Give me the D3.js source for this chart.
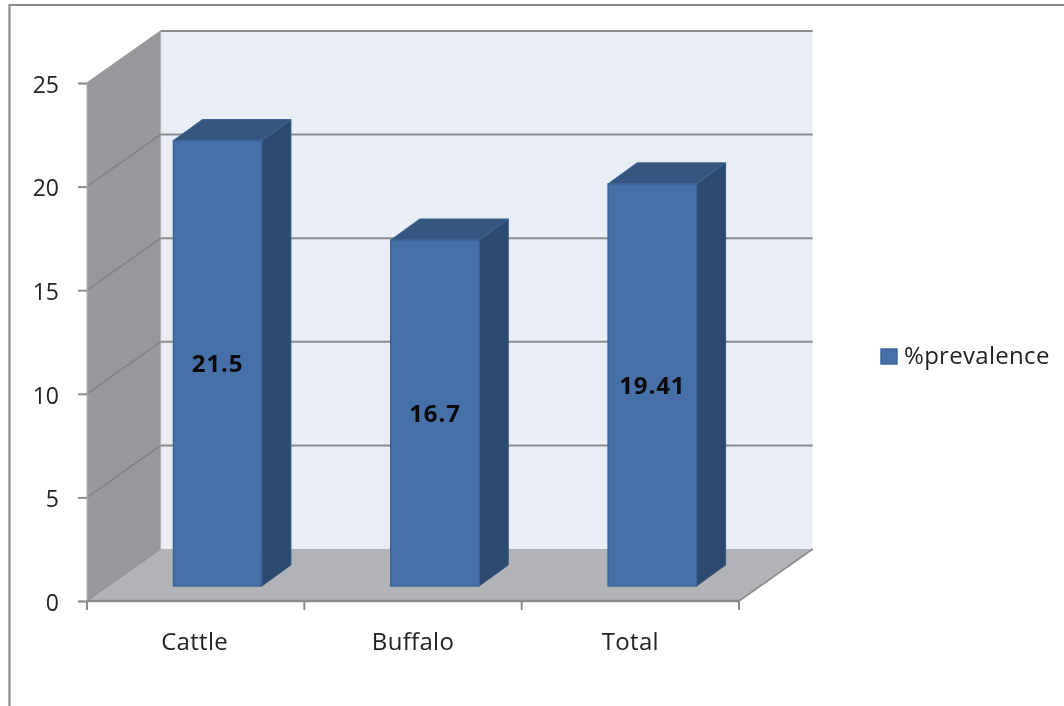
<!DOCTYPE html>
<html><head><meta charset="utf-8">
<script src="https://cdn.jsdelivr.net/npm/d3@7"></script>
<style>html,body{margin:0;padding:0;background:#fff}svg{display:block;filter:blur(0.4px)}text{font-family:"Open Sans",sans-serif}</style>
</head><body><div id="c"></div>
<script>
const categories = ["Cattle","Buffalo","Total"];
const prevalence = [21.5,16.7,19.41];
const seriesName = "%prevalence";
const yTicks = [0,5,10,15,20,25];

const W=1064,H=706;
const svg=d3.select("#c").append("svg").attr("width",W).attr("height",H);
const x=d3.scaleBand().domain(categories).range([87,739]);
const y=d3.scaleLinear().domain([0,25]).range([601,83]);
const depth={dx:73.7,dy:-52};
const bar={w:88.5,dx:29,dy:-21,ox:22,oy:-15};
const gray="#8b8b8b";
const pts=a=>a.map(p=>p.join(",")).join(" ");

// frame
svg.append("path").attr("d",`M1064,5H9.5V706`).attr("fill","none").attr("stroke",gray).attr("stroke-width",2.2);

const x0=x.range()[0],x1=x.range()[1];
// back wall
svg.append("polygon").attr("points",pts([[x0+depth.dx,y(25)+depth.dy],[x1+depth.dx,y(25)+depth.dy],[x1+depth.dx,y(0)+depth.dy],[x0+depth.dx,y(0)+depth.dy]])).attr("fill","#e9edf6");
// side wall
svg.append("polygon").attr("points",pts([[x0,y(25)],[x0+depth.dx,y(25)+depth.dy],[x0+depth.dx,y(0)+depth.dy],[x0,y(0)]])).attr("fill","#96989b").attr("stroke","#b4b6b9").attr("stroke-width",.6);
// floor
svg.append("polygon").attr("points",pts([[x0,y(0)],[x0+depth.dx,y(0)+depth.dy],[x1+depth.dx,y(0)+depth.dy],[x1,y(0)]])).attr("fill","#b1b3b6");
// floor edges
svg.append("line").attr("x1",x1).attr("y1",y(0)).attr("x2",x1+depth.dx).attr("y2",y(0)+depth.dy).attr("stroke",gray).attr("stroke-width",1.6);
svg.append("line").attr("x1",x0).attr("y1",y(0)).attr("x2",x0+depth.dx).attr("y2",y(0)+depth.dy).attr("stroke",gray).attr("stroke-width",1);

// gridlines
yTicks.filter(t=>t>0).forEach(t=>{
  svg.append("line").attr("x1",x0).attr("y1",y(t)).attr("x2",x0+depth.dx).attr("y2",y(t)+depth.dy).attr("stroke",t==25?"#9a9a9a":"#7f7f7f").attr("stroke-width",1.2);
  svg.append("line").attr("x1",x0+depth.dx).attr("y1",y(t)+depth.dy).attr("x2",x1+depth.dx).attr("y2",y(t)+depth.dy).attr("stroke",gray).attr("stroke-width",2);
});

// axes
const yA=d3.axisLeft(y).tickValues(yTicks).tickSize(9).tickPadding(19);
const gy=svg.append("g").attr("transform",`translate(${x0},0)`).call(yA);
gy.select(".domain").attr("stroke","#a5a5a5").attr("stroke-width",1.5);
gy.selectAll("line").attr("stroke",gray).attr("stroke-width",2);
gy.selectAll("text").attr("font-size",23).attr("font-family","Open Sans").attr("fill","#222").attr("dy","0.4em");

const gx=svg.append("g").attr("transform",`translate(0,${y(0)})`);
gx.append("line").attr("x1",x0).attr("x2",x1).attr("stroke",gray).attr("stroke-width",2.4);
[...categories.map(c=>x(c)),x1].forEach(px=>gx.append("line").attr("x1",px).attr("x2",px).attr("y1",0).attr("y2",9).attr("stroke",gray).attr("stroke-width",2));
gx.selectAll("text.cat").data(categories).join("text").attr("class","cat")
  .attr("x",c=>x(c)+x.bandwidth()/2-(c=="Cattle"?1:0)).attr("y",49).attr("text-anchor","middle")
  .attr("font-size",24).attr("letter-spacing",0.3).attr("fill","#222").text(c=>c);

// bars
const base=v=>y(v)+bar.oy;
const g=svg.selectAll("g.bar").data(categories.map((c,i)=>({c,v:prevalence[i]}))).join("g").attr("class","bar");
const L=d=>x(d.c)+x.bandwidth()/2+bar.ox-bar.w/2, R=d=>L(d)+bar.w;
g.append("polygon").attr("points",d=>pts([[R(d),base(d.v)],[R(d)+bar.dx,base(d.v)+bar.dy],[R(d)+bar.dx,base(0)+bar.dy],[R(d),base(0)]])).attr("fill","#2c4a6e").attr("stroke","#33567f").attr("stroke-width",1);
g.append("polygon").attr("points",d=>pts([[L(d),base(d.v)],[L(d)+bar.dx,base(d.v)+bar.dy],[R(d)+bar.dx,base(d.v)+bar.dy],[R(d),base(d.v)]])).attr("fill","#34567f").attr("stroke","#3f6796").attr("stroke-width",1);
g.append("rect").attr("x",L).attr("y",d=>base(d.v)).attr("width",bar.w).attr("height",d=>base(0)-base(d.v)).attr("fill","#4571a8").attr("stroke","#3a6295").attr("stroke-width",1.4);
g.append("text").attr("x",d=>(L(d)+R(d))/2).attr("y",d=>(base(d.v)+base(0))/2).attr("dy","0.36em").attr("text-anchor","middle").attr("font-size",24).attr("letter-spacing",0.9).attr("font-weight",700).attr("fill","#0a0a0a").text(d=>d.v);

// legend
svg.append("rect").attr("x",881).attr("y",349).attr("width",16).attr("height",15).attr("fill","#4571a8").attr("stroke","#3a6295").attr("stroke-width",1.4);
svg.append("text").attr("x",904).attr("y",364).attr("font-size",24).attr("letter-spacing",0.3).attr("fill","#222").text(seriesName);
</script></body></html>
